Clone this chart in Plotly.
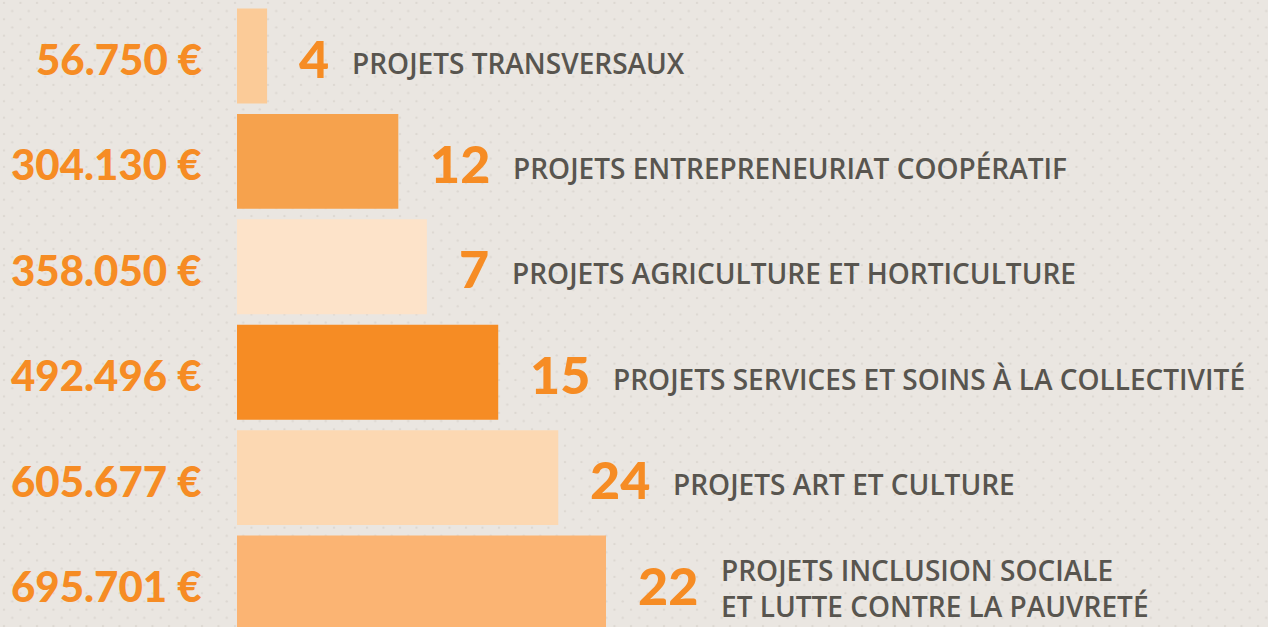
import base64
import plotly.graph_objects as go

# ---- data ----
categories = [
    "PROJETS TRANSVERSAUX",
    "PROJETS ENTREPRENEURIAT COOPÉRATIF",
    "PROJETS AGRICULTURE ET HORTICULTURE",
    "PROJETS SERVICES ET SOINS À LA COLLECTIVITÉ",
    "PROJETS ART ET CULTURE",
    "PROJETS INCLUSION SOCIALE<br>ET LUTTE CONTRE LA PAUVRETÉ",
]
amounts = [56750, 304130, 358050, 492496, 605677, 695701]
project_counts = [4, 12, 7, 15, 24, 22]
bar_colors = ["#fbcb98", "#f6a24d", "#fde3c9", "#f68c24", "#fcd8b2", "#fbb473"]

ORANGE = "#f68c24"
GREY = "#58554f"
BG = "#eae6e1"
NUM_FONT = "Lato"
LABEL_FONT = "Open Sans"

def fmt_eur(v):
    return f"{v:,}".replace(",", ".") + " €"

W, H = 1268, 627

# dotted background texture (decoration only)
svg = f"""<svg xmlns='http://www.w3.org/2000/svg' width='{W}' height='{H}'>
<defs><pattern id='p' width='16.5' height='16.4' patternUnits='userSpaceOnUse'>
<circle cx='4' cy='2.8' r='1.15' fill='#dcd7d1'/>
<circle cx='12.25' cy='11' r='1.15' fill='#dcd7d1'/>
</pattern></defs>
<rect width='{W}' height='{H}' fill='{BG}'/>
<rect width='{W}' height='{H}' fill='url(#p)'/>
</svg>"""
bg_uri = "data:image/svg+xml;base64," + base64.b64encode(svg.encode()).decode()

ykeys = [f"r{i}" for i in range(len(categories))]

fig = go.Figure(
    go.Bar(
        x=amounts,
        y=ykeys,
        orientation="h",
        marker=dict(color=bar_colors, line=dict(width=0)),
        width=0.9,
        hoverinfo="skip",
    )
)

annotations = []
for i, (cat, amt, n) in enumerate(zip(categories, amounts, project_counts)):
    annotations.append(dict(
        x=0, y=ykeys[i], xref="x", yref="y", xanchor="right", yanchor="middle",
        xshift=-33, yshift=-3, showarrow=False, text=fmt_eur(amt),
        font=dict(family=NUM_FONT, size=42, color=ORANGE, weight=900),
    ))
    ndig = len(str(n))
    annotations.append(dict(
        x=amt, y=ykeys[i], xref="x", yref="y", xanchor="left", yanchor="middle",
        xshift=30, yshift=-1.5, showarrow=False, text=str(n),
        font=dict(family=NUM_FONT, size=52, color=ORANGE, weight=900),
    ))
    multi = "<br>" in cat
    annotations.append(dict(
        x=amt, y=ykeys[i], xref="x", yref="y", xanchor="left", yanchor="middle",
        xshift=ndig * 30 + 53, yshift=(-5 if multi else -6.5), showarrow=False,
        text=cat, align="left",
        font=dict(family=LABEL_FONT, size=28, color=GREY, weight=600),
    ))

px_per_eur = 369 / 695701
x0_px = 237
row_px = 105.4
top_center = 56

fig.update_layout(
    width=W, height=H,
    margin=dict(l=0, r=0, t=0, b=0),
    paper_bgcolor=BG, plot_bgcolor="rgba(0,0,0,0)",
    showlegend=False,
    images=[dict(source=bg_uri, xref="paper", yref="paper", x=0, y=1,
                 sizex=1, sizey=1, xanchor="left", yanchor="top",
                 sizing="stretch", layer="below")],
    xaxis=dict(
        range=[-x0_px / px_per_eur, (W - x0_px) / px_per_eur],
        visible=False, showgrid=False, zeroline=False, fixedrange=True,
    ),
    yaxis=dict(
        type="category", categoryorder="array", categoryarray=ykeys,
        range=[(H - top_center) / row_px, -top_center / row_px],
        visible=False, showgrid=False, zeroline=False, fixedrange=True,
    ),
    annotations=annotations,
)

fig.write_html(
    "out.html",
    config={"displayModeBar": False},
    post_script="document.body.style.margin='0';document.body.style.overflow='hidden';",
)
